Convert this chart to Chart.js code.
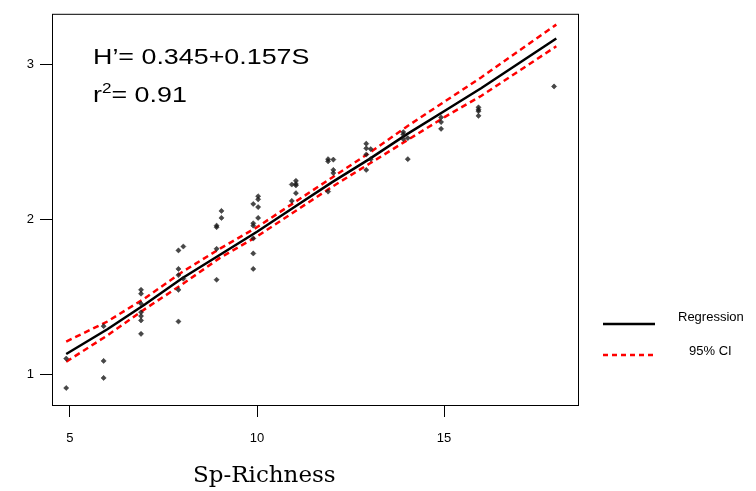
<!DOCTYPE html>
<html>
<head>
<meta charset="utf-8">
<script src="https://cdn.jsdelivr.net/npm/chart.js@4.4.1/dist/chart.umd.min.js"></script>
<style>
  html, body { margin: 0; padding: 0; background: #fff; }
  #wrap { width: 756px; height: 491px; }
</style>
</head>
<body>
<div id="wrap"><canvas id="chart" width="756" height="491"></canvas></div>
<script>
// Sp-Richness (S) and Shannon H'
const richness = [
    4.9, 4.9,
    5.9, 5.9, 5.9,
    6.9, 6.9, 6.9, 6.9, 6.9, 6.9, 6.9,
    7.9, 7.9, 7.9, 7.9, 7.9, 8.03, 8.03,
    8.92, 8.92, 8.92, 8.92, 9.05, 9.05,
    9.9, 9.9, 9.9, 9.9, 9.9, 9.9, 10.03, 10.03, 10.03, 10.03,
    10.93, 10.93, 11.04, 11.04, 11.04, 11.04,
    11.9, 11.9, 11.9, 12.04, 12.04, 12.04,
    12.92, 12.92, 12.92, 12.92, 13.04, 13.04,
    13.91, 13.91, 13.91, 14.03, 14.03,
    14.92, 14.92, 14.92,
    15.92, 15.92, 15.92, 15.92,
    17.94
];
const diversity = [
    1.10, 0.91,
    1.31, 1.085, 0.975,
    1.545, 1.52, 1.455, 1.40, 1.375, 1.347, 1.26,
    1.80, 1.68, 1.64, 1.545, 1.34, 1.825, 1.617,
    1.96, 1.95, 1.81, 1.61, 2.055, 2.01,
    2.10, 1.975, 1.96, 1.877, 1.78, 1.68, 2.15, 2.13, 2.08, 2.01,
    2.226, 2.12, 2.25, 2.23, 2.22, 2.17,
    2.39, 2.376, 2.18, 2.387, 2.32, 2.30,
    2.49, 2.46, 2.42, 2.32, 2.455, 2.39,
    2.565, 2.55, 2.52, 2.526, 2.39,
    2.66, 2.63, 2.586,
    2.725, 2.71, 2.70, 2.67,
    2.86
];

// fitted line and 95% CI bands
const fitS = [4.9, 6, 7, 8, 9, 10, 11, 12, 13, 14, 15, 16, 17, 18];
const fitH = [1.13, 1.29, 1.45, 1.62, 1.77, 1.92, 2.08, 2.24, 2.39, 2.55, 2.70, 2.85, 3.01, 3.17];
const ciUpper = [1.21, 1.34, 1.49, 1.66, 1.81, 1.95, 2.11, 2.27, 2.43, 2.60, 2.76, 2.92, 3.09, 3.26];
const ciLower = [1.08, 1.25, 1.42, 1.58, 1.75, 1.89, 2.05, 2.21, 2.36, 2.51, 2.66, 2.80, 2.96, 3.12];

const xTicks = [5, 10, 15];
const yTicks = [1, 2, 3];

const toPoints = (xs, ys) => xs.map((x, i) => ({ x: x, y: ys[i] }));

// frame, annotation, legend and axis title
const decorPlugin = {
    id: 'decor',
    afterDraw(chart) {
        const { ctx, chartArea } = chart;
        ctx.save();

        ctx.strokeStyle = '#000';
        ctx.lineWidth = 1;
        ctx.strokeRect(chartArea.left + 0.5, chartArea.top + 0.5,
            chartArea.right - chartArea.left, chartArea.bottom - chartArea.top);

        // equation, stretched a little like the original
        ctx.fillStyle = '#000';
        ctx.textBaseline = 'alphabetic';
        ctx.textAlign = 'left';
        ctx.save();
        ctx.translate(93, 64);
        ctx.scale(1.22, 1);
        ctx.font = '22px "Liberation Sans", Arial, sans-serif';
        ctx.fillText('H\u2019= 0.345+0.157S', 0, 0);
        ctx.restore();

        ctx.save();
        ctx.translate(93, 102);
        ctx.scale(1.22, 1);
        ctx.font = '22px "Liberation Sans", Arial, sans-serif';
        ctx.fillText('r', 0, 0);
        let w = ctx.measureText('r').width;
        ctx.font = '14px "Liberation Sans", Arial, sans-serif';
        ctx.fillText('2', w, -9);
        w += ctx.measureText('2').width;
        ctx.font = '22px "Liberation Sans", Arial, sans-serif';
        ctx.fillText('= 0.91', w, 0);
        ctx.restore();

        // legend
        ctx.lineWidth = 2.5;
        ctx.strokeStyle = '#000';
        ctx.beginPath();
        ctx.moveTo(603, 324);
        ctx.lineTo(655, 324);
        ctx.stroke();

        ctx.strokeStyle = '#ff0000';
        ctx.setLineDash([5, 4]);
        ctx.beginPath();
        ctx.moveTo(603, 355);
        ctx.lineTo(655, 355);
        ctx.stroke();
        ctx.setLineDash([]);

        ctx.font = '13px "Liberation Sans", Arial, sans-serif';
        ctx.textBaseline = 'middle';
        ctx.fillText('Regression', 678, 317);
        ctx.fillText('95% CI', 689, 351);

        // x axis title
        ctx.font = '23px "DejaVu Serif", serif';
        ctx.textBaseline = 'alphabetic';
        ctx.fillText('Sp-Richness', 193, 482);

        ctx.restore();
    }
};

const ctx = document.getElementById('chart').getContext('2d');

new Chart(ctx, {
    type: 'scatter',
    data: {
        datasets: [
            {
                label: 'Regression',
                type: 'line',
                data: toPoints(fitS, fitH),
                borderColor: '#000',
                borderWidth: 2.5,
                pointRadius: 0,
                fill: false,
                order: 1
            },
            {
                label: '95% CI',
                type: 'line',
                data: toPoints(fitS, ciUpper),
                borderColor: '#ff0000',
                borderWidth: 2.5,
                borderDash: [6, 4],
                pointRadius: 0,
                fill: false,
                order: 2
            },
            {
                label: '95% CI lower',
                type: 'line',
                data: toPoints(fitS, ciLower),
                borderColor: '#ff0000',
                borderWidth: 2.5,
                borderDash: [6, 4],
                pointRadius: 0,
                fill: false,
                order: 2
            },
            {
                label: 'Samples',
                data: toPoints(richness, diversity),
                pointStyle: 'rectRot',
                pointRadius: 2.6,
                backgroundColor: 'rgba(25,25,25,0.8)',
                borderColor: 'rgba(25,25,25,0.8)',
                borderWidth: 0.5,
                order: 0
            }
        ]
    },
    options: {
        responsive: false,
        animation: false,
        layout: {
            padding: { left: 0, right: 178, top: 10, bottom: 0 }
        },
        plugins: {
            legend: { display: false },
            tooltip: { enabled: false }
        },
        scales: {
            x: {
                type: 'linear',
                min: 4.52,
                max: 18.58,
                afterBuildTicks: (scale) => { scale.ticks = xTicks.map(v => ({ value: v })); },
                afterFit: (scale) => { scale.height = 86; },
                grid: {
                    drawOnChartArea: false,
                    drawTicks: true,
                    tickLength: 12,
                    color: '#000'
                },
                border: { display: false },
                ticks: {
                    color: '#000',
                    padding: 14,
                    font: { family: '"Liberation Sans", Arial, sans-serif', size: 13 }
                }
            },
            y: {
                type: 'linear',
                min: 0.80,
                max: 3.33,
                afterBuildTicks: (scale) => { scale.ticks = yTicks.map(v => ({ value: v })); },
                afterFit: (scale) => { scale.width = 52; },
                grid: {
                    drawOnChartArea: false,
                    drawTicks: true,
                    tickLength: 12,
                    color: '#000'
                },
                border: { display: false },
                ticks: {
                    color: '#000',
                    padding: 6,
                    font: { family: '"Liberation Sans", Arial, sans-serif', size: 13 }
                }
            }
        }
    },
    plugins: [decorPlugin]
});
</script>
</body>
</html>
